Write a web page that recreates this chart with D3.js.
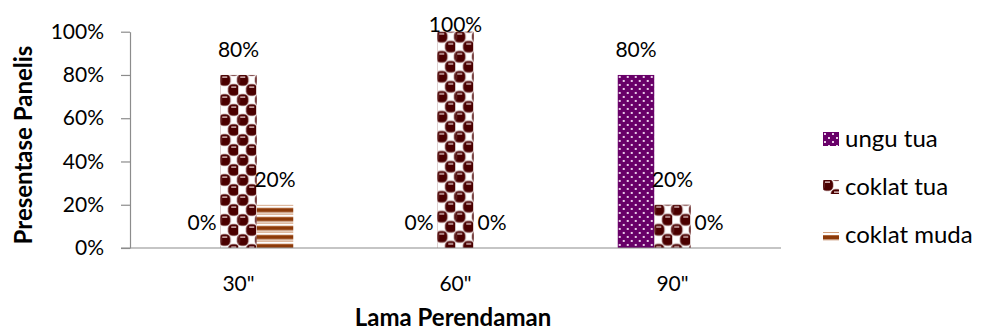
<!DOCTYPE html>
<html>
<head>
<meta charset="utf-8">
<script src="https://cdn.jsdelivr.net/npm/d3@7/dist/d3.min.js"></script>
<style>
  html, body { margin: 0; padding: 0; background: #fff; }
  svg { display: block; font-family: Lato, "Open Sans", sans-serif; }
</style>
</head>
<body>
<svg id="chart" width="981" height="333"></svg>
<script>
// Soaking time categories and share of panelists per colour
const categories = ['30"', '60"', '90"'];
const seriesNames = ["ungu tua", "coklat tua", "coklat muda"];
const unguTua = [0, 0, 0.8];
const coklatTua = [0.8, 1.0, 0.2];
const coklatMuda = [0.2, 0, 0];
const yTicks = [0, 0.2, 0.4, 0.6, 0.8, 1.0];
const xTitle = "Lama Perendaman";
const yTitle = "Presentase Panelis";

const seriesValues = [unguTua, coklatTua, coklatMuda];
const patternIds = ["pUngu", "pCoklatTua", "pCoklatMuda"];

const svg = d3.select("#chart");
const pct = d3.format(".0%");

// ---- fill patterns ----
const defs = svg.append("defs");

// purple with small light dots
const pU = defs.append("pattern").attr("id", "pUngu")
  .attr("patternUnits", "userSpaceOnUse").attr("width", 8).attr("height", 8);
pU.append("rect").attr("width", 8).attr("height", 8).attr("fill", "#680068");
pU.append("rect").attr("x", 1).attr("y", 1).attr("width", 2).attr("height", 2).attr("fill", "#e9cde9");
pU.append("rect").attr("x", 5).attr("y", 5).attr("width", 2).attr("height", 2).attr("fill", "#e9cde9");

// dark brown spheres on white, in a checkerboard
const pC = defs.append("pattern").attr("id", "pCoklatTua")
  .attr("patternUnits", "userSpaceOnUse").attr("width", 18).attr("height", 20);
pC.append("rect").attr("width", 18).attr("height", 20).attr("fill", "#ffffff");
[[4.5, 5], [13.5, 15], [22.5, 5], [-4.5, 5], [4.5, 25], [13.5, -5], [-4.5, 25], [22.5, 25]].forEach(([cx, cy]) => {
  pC.append("rect").attr("x", cx - 5.6).attr("y", cy - 5.8).attr("width", 11.2).attr("height", 11.6)
    .attr("rx", 4.5).attr("ry", 4.5)
    .attr("fill", "#4a0000").attr("stroke", "#9a6a6a").attr("stroke-width", 0.5);
  pC.append("rect").attr("x", cx - 2.5).attr("y", cy - 3.6).attr("width", 5).attr("height", 1.5)
    .attr("fill", "#d9b9b9");
});

// horizontal brown stripes
const pM = defs.append("pattern").attr("id", "pCoklatMuda")
  .attr("patternUnits", "userSpaceOnUse").attr("width", 9).attr("height", 9);
pM.append("rect").attr("width", 9).attr("height", 9).attr("fill", "#ffffff");
pM.append("rect").attr("y", 0).attr("width", 9).attr("height", 1).attr("fill", "#d2a07e");
pM.append("rect").attr("y", 3).attr("width", 9).attr("height", 1).attr("fill", "#b26a3e");
pM.append("rect").attr("y", 4).attr("width", 9).attr("height", 3.5).attr("fill", "#8c3a0a");
pM.append("rect").attr("y", 7.5).attr("width", 9).attr("height", 0.8).attr("fill", "#c28a66");

// ---- scales ----
const x0 = d3.scaleBand().domain(categories).range([130, 781])
  .paddingInner(0.4954).paddingOuter(0.2477);
const x1 = d3.scaleBand().domain(seriesNames).range([0, x0.bandwidth()]).padding(0);
const y = d3.scaleLinear().domain([0, 1]).range([248, 31.7]);

// ---- y axis ----
const yAxis = d3.axisLeft(y).tickValues(yTicks).tickFormat(pct)
  .tickSize(9).tickSizeOuter(0).tickPadding(17);
const gy = svg.append("g").attr("transform", "translate(130,0)").call(yAxis);
gy.select(".domain").attr("stroke", "#8c8c8c").attr("stroke-width", 1.2);
gy.selectAll(".tick line").attr("stroke", "#8c8c8c").attr("stroke-width", 1.2);
gy.selectAll(".tick text").attr("font-size", 21).attr("fill", "#000")
  .attr("font-family", "Lato, sans-serif");

// ---- bars ----
const groups = svg.append("g").selectAll("g")
  .data(categories).join("g")
  .attr("transform", c => `translate(${x0(c)},0)`);

seriesNames.forEach((s, si) => {
  groups.each(function(c, ci) {
    const v = seriesValues[si][ci];
    const g = d3.select(this);
    if (v > 0) {
      g.append("g")
        .attr("transform", `translate(${x1(s)},${y(v)})`)
        .append("rect")
        .attr("width", x1.bandwidth())
        .attr("height", y(0) - y(v))
        .attr("fill", `url(#${patternIds[si]})`);
    }
    g.append("text")
      .attr("x", x1(s) + x1.bandwidth() / 2)
      .attr("y", Math.max(y(v) - 18, 32))
      .attr("text-anchor", "middle")
      .attr("font-size", 21).attr("fill", "#000")
      .text(pct(v));
  });
});

// ---- x axis ----
svg.append("line").attr("x1", 121).attr("x2", 781).attr("y1", y(0)).attr("y2", y(0))
  .attr("stroke", "#8c8c8c").attr("stroke-width", 1.2);
const xAxis = d3.axisBottom(x0).tickSize(0).tickPadding(28);
const gx = svg.append("g").attr("transform", `translate(0,${y(0)})`).call(xAxis);
gx.select(".domain").remove();
gx.selectAll(".tick text").attr("font-size", 21).attr("fill", "#000")
  .attr("font-family", "Lato, sans-serif");

// ---- axis titles ----
svg.append("text").attr("x", 453).attr("y", 326).attr("text-anchor", "middle")
  .attr("font-size", 24).attr("font-weight", "bold").text(xTitle);
svg.append("text").attr("transform", "translate(32,145) rotate(-90)")
  .attr("text-anchor", "middle").attr("font-size", 24).attr("font-weight", "bold")
  .text(yTitle);

// ---- legend ----
const legendY = [139, 187, 235];
const leg = svg.append("g").selectAll("g").data(seriesNames).join("g")
  .attr("transform", (d, i) => `translate(823,${legendY[i]})`);
leg.each(function(d, i) {
  const g = d3.select(this);
  if (i === 2) {
    g.append("g").attr("transform", "translate(0,-3)")
      .append("rect").attr("width", 16).attr("height", 9).attr("fill", "url(#pCoklatMuda)");
  } else {
    g.append("g").attr("transform", "translate(0,-7)")
      .append("rect").attr("width", 16).attr("height", 14).attr("fill", `url(#${patternIds[i]})`);
  }
  g.append("text").attr("x", 22).attr("y", 0).attr("dy", "0.35em")
    .attr("font-size", 24).attr("fill", "#000").text(d);
});
</script>
</body>
</html>
